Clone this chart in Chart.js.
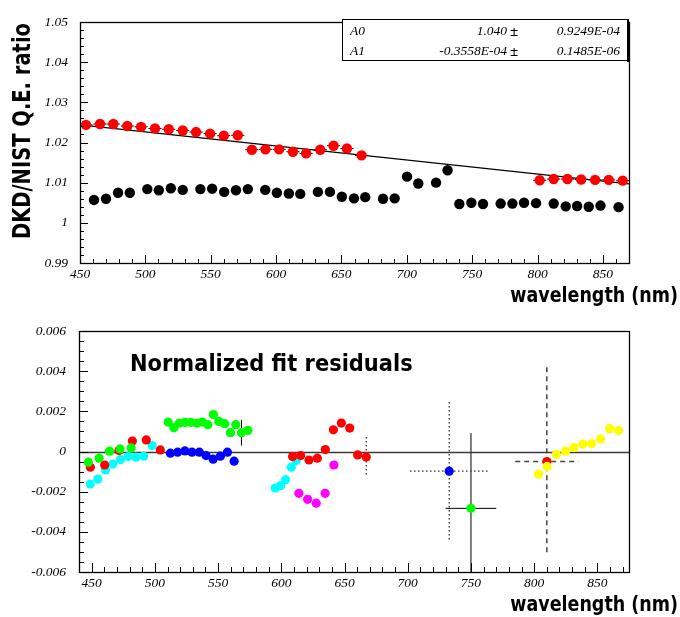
<!DOCTYPE html>
<html>
<head>
<meta charset="utf-8">
<script src="https://cdn.jsdelivr.net/npm/chart.js@4.4.1/dist/chart.umd.min.js"></script>
<style>
  html, body { margin: 0; padding: 0; background: #fff; }
  #wrap { position: relative; width: 680px; height: 617px; }
  canvas { position: absolute; left: 0; }
</style>
</head>
<body>
<div id="wrap">
  <canvas id="ratioChart" width="680" height="310" style="top:0"></canvas>
  <canvas id="residChart" width="680" height="307" style="top:310px"></canvas>
</div>
<script>
// ---- top panel: DKD/NIST Q.E. ratio vs wavelength ----
const topXTicks = [450, 500, 550, 600, 650, 700, 750, 800, 850];
const topYTicks = [0.99, 1, 1.01, 1.02, 1.03, 1.04, 1.05];

const redWl = [454.6, 465.3, 475.5, 486.2, 496.7, 507.4, 517.9, 528.6, 538.8, 549.5, 560.0, 570.7,
  581.5, 591.9, 602.4, 612.9, 623.0, 633.8, 644.0, 654.2, 665.4,
  801.7, 812.4, 822.9, 833.4, 844.1, 854.5, 865.2];
const redRatio = [1.0244, 1.0246, 1.0246, 1.0241, 1.0239, 1.0235, 1.0233, 1.0230, 1.0226, 1.0222, 1.0217, 1.0218,
  1.0182, 1.0183, 1.0183, 1.0177, 1.0173, 1.0182, 1.0192, 1.0185, 1.0168,
  1.0106, 1.0109, 1.0109, 1.0108, 1.0107, 1.0107, 1.0105];
const redWlErr = [5, 5, 5, 5, 5, 5, 5, 5, 5, 5, 5, 5, 5, 5, 5, 5, 5, 5, 5, 5, 5, 5, 5, 5, 5, 5, 5, 5];

const blackWl = [460.7, 469.9, 479.1, 488.1, 501.5, 510.3, 519.5, 528.6, 542.1, 551.1, 560.3, 569.3, 578.4,
  591.7, 600.6, 609.8, 618.5, 632.0, 641.2, 650.3, 659.6, 668.2, 681.8, 690.7, 700.2, 708.8, 722.4, 731.2,
  740.2, 749.4, 758.3, 771.8, 780.8, 789.7, 798.9, 812.4, 821.6, 830.3, 839.2, 848.2, 862.0];
const blackRatio = [1.0057, 1.0060, 1.0075, 1.0075, 1.0084, 1.0081, 1.0086, 1.0082, 1.0084, 1.0085, 1.0077, 1.0081, 1.0084,
  1.0082, 1.0075, 1.0073, 1.0072, 1.0077, 1.0077, 1.0065, 1.0061, 1.0064, 1.0060, 1.0061, 1.0115, 1.0098, 1.0100, 1.0131,
  1.0047, 1.0050, 1.0047, 1.0048, 1.0048, 1.0050, 1.0049, 1.0048, 1.0041, 1.0042, 1.0040, 1.0043, 1.0039];

// fitted straight line, end points
const fitWl = [450, 870];
const fitRatio = [1.0244, 1.0097];

// ---- bottom panel: normalized fit residuals ----
const botXTicks = [450, 500, 550, 600, 650, 700, 750, 800, 850];
const botYTicks = [-0.006, -0.004, -0.002, 0, 0.002, 0.004, 0.006];

const cyanAWl = [448.9, 454.9, 461.0, 466.8, 472.9, 479.0, 485.0, 491.1, 497.9];
const cyanARes = [-0.00162, -0.00137, -0.00092, -0.00062, -0.00040, -0.00025, -0.00028, -0.00023, 0.00030];
const cyanBWl = [595.2, 599.4, 603.4, 607.9, 611.8];
const cyanBRes = [-0.00182, -0.00170, -0.00140, -0.00078, -0.00045];

const redAWl = [449.0, 460.3, 471.6, 482.2, 493.2, 504.3];
const redARes = [-0.00078, -0.00067, 0.00005, 0.00052, 0.00058, 0.00008];
const redBWl = [608.9, 615.3, 621.9, 628.5, 634.8, 641.2, 647.5, 654.1, 660.4, 667.2];
const redBRes = [-0.00025, -0.00020, -0.00042, -0.00033, 0.00010, 0.00108, 0.00142, 0.00117, -0.00017, -0.00027];
const redBErr = [null, null, null, null, null, null, null, null, null, 0.0010];

const greenAWl = [447.4, 455.9, 464.1, 472.5, 481.2];
const greenARes = [-0.00053, -0.00033, 0.00002, 0.00013, 0.00018];
const greenBWl = [510.5, 515.0, 519.4, 523.9, 528.4, 533.2, 537.6, 541.9, 546.3, 550.6, 555.3, 559.8, 564.0, 568.5, 573.6];
const greenBRes = [0.00147, 0.00119, 0.00142, 0.00145, 0.00145, 0.00142, 0.00147, 0.00134, 0.00184, 0.00150,
  0.00139, 0.00094, 0.00134, 0.00094, 0.00105];
const greenBErr = [null, null, null, null, null, null, null, null, null, null, null, null, null, 0.00064, null];

const blueAWl = [512.3, 518.0, 523.8, 529.4, 535.2, 540.5, 546.1, 551.8, 557.4, 562.7];
const blueARes = [-0.00008, -0.00003, 0.00003, -0.00003, -0.00003, -0.00020, -0.00038, -0.00023, -0.00003, -0.00048];
const blueAErr = [null, null, null, null, null, null, null, null, 0.00018, null];

const magentaWl = [613.9, 620.8, 627.6, 634.7, 641.6];
const magentaRes = [-0.00208, -0.00238, -0.00257, -0.00208, -0.00067];

const yellowWl = [803.5, 810.2, 817.5, 824.8, 831.5, 838.6, 845.4, 852.5, 859.6, 866.7];
const yellowRes = [-0.00112, -0.00074, -0.00015, 0.00002, 0.00020, 0.00037, 0.00039, 0.00062, 0.00114, 0.00105];

// single points with big error bars
const blueSWl = [732.8], blueSRes = [-0.00098], blueSErrX = [31], blueSErrY = [0.00345];
const greenSWl = [750], greenSRes = [-0.00283], greenSErrX = [20], greenSErrY = [0.00375];
const redSWl = [810], redSRes = [-0.0005], redSErrX = [25], redSErrY = [0.0047];

function pts(xs, ys) {
  return xs.map((v, i) => ({ x: v, y: ys[i] }));
}

const tickFont = { family: 'Liberation Serif', size: 13.5, style: 'italic' };

// error bars, drawn under the markers
const errorBars = {
  id: 'errorBars',
  beforeDatasetsDraw(chart) {
    const { ctx, chartArea: a, scales: { x, y } } = chart;
    ctx.save();
    ctx.beginPath();
    ctx.rect(a.left, a.top, a.right - a.left, a.bottom - a.top);
    ctx.clip();
    chart.data.datasets.forEach(ds => {
      if (!ds.errX && !ds.errY) return;
      ctx.strokeStyle = ds.errColor || '#000';
      ctx.lineWidth = ds.errWidth || 1;
      ctx.setLineDash(ds.errDash || []);
      ds.data.forEach((p, i) => {
        const px = x.getPixelForValue(p.x), py = y.getPixelForValue(p.y);
        const ex = ds.errX && ds.errX[i], ey = ds.errY && ds.errY[i];
        ctx.beginPath();
        if (ex) {
          ctx.moveTo(x.getPixelForValue(p.x - ex), py);
          ctx.lineTo(x.getPixelForValue(p.x + ex), py);
        }
        if (ey) {
          ctx.moveTo(px, y.getPixelForValue(p.y + ey));
          ctx.lineTo(px, y.getPixelForValue(p.y - ey));
        }
        ctx.stroke();
      });
    });
    ctx.restore();
  }
};

// ROOT-like frame with inward ticks, zero line, free text
const rootFrame = {
  id: 'rootFrame',
  beforeDatasetsDraw(chart, args, o) {
    if (!o.zeroLine) return;
    const { ctx, chartArea: a, scales: { y } } = chart;
    const py = Math.round(y.getPixelForValue(0)) + 0.5;
    ctx.save();
    ctx.strokeStyle = '#3a3a3a';
    ctx.lineWidth = 1.3;
    ctx.beginPath();
    ctx.moveTo(a.left, py);
    ctx.lineTo(a.right, py);
    ctx.stroke();
    ctx.restore();
  },
  afterDatasetsDraw(chart, args, o) {
    const { ctx, chartArea: a, scales: { x, y } } = chart;
    ctx.save();
    ctx.strokeStyle = '#000';
    ctx.lineWidth = 1;
    const isMajor = (v, m) => Math.abs(v / m - Math.round(v / m)) < 1e-6;
    let n = Math.floor((x.max - o.xFrom) / o.xMinor + 1e-6);
    for (let i = 0; i <= n; i++) {
      const v = o.xFrom + i * o.xMinor;
      const px = Math.round(x.getPixelForValue(v)) + 0.5;
      const len = isMajor(v, o.xMajor) ? o.majLen : o.minLen;
      ctx.beginPath();
      ctx.moveTo(px, a.bottom);
      ctx.lineTo(px, a.bottom - len);
      ctx.stroke();
    }
    n = Math.round((y.max - y.min) / o.yMinor);
    for (let i = 0; i <= n; i++) {
      const v = y.min + i * o.yMinor;
      const py = Math.round(y.getPixelForValue(v)) + 0.5;
      const len = isMajor(v, o.yMajor) ? o.majLen : o.minLen;
      ctx.beginPath();
      ctx.moveTo(a.left, py);
      ctx.lineTo(a.left + len, py);
      ctx.stroke();
    }
    ctx.lineWidth = 1.3;
    ctx.strokeRect(Math.round(a.left) + 0.5, Math.round(a.top) + 0.5,
      Math.round(a.right - a.left), Math.round(a.bottom - a.top));

    // fit parameter box
    if (o.box) {
      const b = o.box;
      ctx.fillStyle = '#fff';
      ctx.fillRect(b.x, b.y, b.w, b.h);
      ctx.lineWidth = 1;
      ctx.strokeRect(b.x + 0.5, b.y + 0.5, b.w, b.h);
      ctx.lineWidth = 2;
      ctx.beginPath();
      ctx.moveTo(b.x + b.w + 1, b.y);
      ctx.lineTo(b.x + b.w + 1, b.y + b.h + 2);
      ctx.stroke();
    }

    (o.texts || []).forEach(t => {
      ctx.save();
      ctx.translate(t.x, t.y);
      if (t.rot) ctx.rotate(t.rot);
      ctx.scale(1, t.sy || 1);
      ctx.font = t.font;
      ctx.fillStyle = '#000';
      ctx.textAlign = t.align || 'left';
      ctx.textBaseline = 'middle';
      ctx.fillText(t.text, 0, 0);
      ctx.restore();
    });
    ctx.restore();
  }
};

function axes(xMin, xMax, xTicks, yMin, yMax, yTicks, yWidth, yPad) {
  return {
    x: {
      type: 'linear', min: xMin, max: xMax,
      afterBuildTicks: s => { s.ticks = xTicks.map(v => ({ value: v })); },
      afterFit: s => { s.height = 30; },
      grid: { display: false, drawTicks: false },
      border: { display: false },
      ticks: { padding: 3, autoSkip: false, maxRotation: 0, color: '#000', font: tickFont,
        callback: v => String(v) }
    },
    y: {
      type: 'linear', min: yMin, max: yMax,
      afterBuildTicks: s => { s.ticks = yTicks.map(v => ({ value: v })); },
      afterFit: s => { s.width = yWidth; },
      grid: { display: false, drawTicks: false },
      border: { display: false },
      ticks: { padding: yPad, autoSkip: false, color: '#000', font: tickFont,
        callback: v => String(v) }
    }
  };
}

const paramFont = 'italic 13.5px "Liberation Serif"';
const pmFont = 'bold 15px "Liberation Serif"';
const titleFont = 'bold 17.5px "DejaVu Sans"';

new Chart(document.getElementById('ratioChart'), {
  type: 'scatter',
  data: {
    datasets: [
      { data: pts(redWl, redRatio), errX: redWlErr, backgroundColor: '#ff0000', pointRadius: 5.2, borderWidth: 0 },
      { data: pts(blackWl, blackRatio), backgroundColor: '#000000', pointRadius: 5.2, borderWidth: 0 },
      { type: 'line', data: pts(fitWl, fitRatio), borderColor: '#000000', borderWidth: 1.3, pointRadius: 0, fill: false }
    ]
  },
  options: {
    responsive: false,
    animation: false,
    events: [],
    layout: { padding: { left: 0, right: 51, top: 22, bottom: 17 } },
    plugins: {
      legend: { display: false },
      tooltip: { enabled: false },
      rootFrame: {
        xFrom: 450, xMinor: 10, xMajor: 50, yMinor: 0.002, yMajor: 0.01, majLen: 8, minLen: 4,
        box: { x: 342, y: 19, w: 285, h: 41 },
        texts: [
          { text: 'A0', x: 350, y: 31, font: paramFont },
          { text: '1.040', x: 507, y: 31, font: paramFont, align: 'right' },
          { text: '±', x: 514, y: 32, font: pmFont, align: 'center' },
          { text: '0.9249E-04', x: 620, y: 31, font: paramFont, align: 'right' },
          { text: 'A1', x: 350, y: 51, font: paramFont },
          { text: '-0.3558E-04', x: 507, y: 51, font: paramFont, align: 'right' },
          { text: '±', x: 514, y: 52, font: pmFont, align: 'center' },
          { text: '0.1485E-06', x: 620, y: 51, font: paramFont, align: 'right' },
          { text: 'DKD/NIST Q.E. ratio', x: 23, y: 131, rot: -Math.PI / 2, sy: 1.3,
            font: 'bold 19.5px "DejaVu Sans"', align: 'center' },
          { text: 'wavelength (nm)', x: 678, y: 297, sy: 1.2, font: titleFont, align: 'right' }
        ]
      }
    },
    scales: axes(450, 870, topXTicks, 0.99, 1.05, topYTicks, 80, 12)
  },
  plugins: [errorBars, rootFrame]
});

const dot = (data, color, extra) => Object.assign({ data, backgroundColor: color, pointRadius: 4.6, borderWidth: 0 }, extra || {});

new Chart(document.getElementById('residChart'), {
  type: 'scatter',
  data: {
    datasets: [
      dot(pts(yellowWl, yellowRes), '#ffff00'),
      dot(pts(redSWl, redSRes), '#ff0000', { errX: redSErrX, errY: redSErrY, errDash: [5, 4], errColor: '#444', errWidth: 1.5 }),
      dot(pts(greenSWl, greenSRes), '#00ff00', { errX: greenSErrX, errY: greenSErrY, errColor: '#000' }),
      dot(pts(blueSWl, blueSRes), '#0000ff', { errX: blueSErrX, errY: blueSErrY, errDash: [1.5, 2.5], errColor: '#333', errWidth: 1.3 }),
      dot(pts(magentaWl, magentaRes), '#ff00ff'),
      dot(pts(greenAWl, greenARes), '#00ff00'),
      dot(pts(greenBWl, greenBRes), '#00ff00', { errY: greenBErr, errColor: '#000' }),
      dot(pts(redAWl, redARes), '#ff0000'),
      dot(pts(redBWl, redBRes), '#ff0000', { errY: redBErr, errDash: [1.5, 2.5], errColor: '#333', errWidth: 1.3 }),
      dot(pts(cyanAWl, cyanARes), '#00ffff'),
      dot(pts(cyanBWl, cyanBRes), '#00ffff'),
      dot(pts(blueAWl, blueARes), '#0000ff', { errY: blueAErr, errColor: '#000' })
    ]
  },
  options: {
    responsive: false,
    animation: false,
    events: [],
    layout: { padding: { left: 0, right: 51, top: 21, bottom: 15 } },
    plugins: {
      legend: { display: false },
      tooltip: { enabled: false },
      rootFrame: {
        xFrom: 440, xMinor: 10, xMajor: 50, yMinor: 0.0005, yMajor: 0.002, majLen: 9, minLen: 5,
        zeroLine: true,
        texts: [
          { text: 'Normalized fit residuals', x: 130, y: 55, sy: 1.1, font: 'bold 21px "DejaVu Sans"' },
          { text: 'wavelength (nm)', x: 678, y: 296, sy: 1.2, font: titleFont, align: 'right' }
        ]
      }
    },
    scales: axes(440, 875, botXTicks, -0.006, 0.006, botYTicks, 79, 13)
  },
  plugins: [errorBars, rootFrame]
});
</script>
</body>
</html>
